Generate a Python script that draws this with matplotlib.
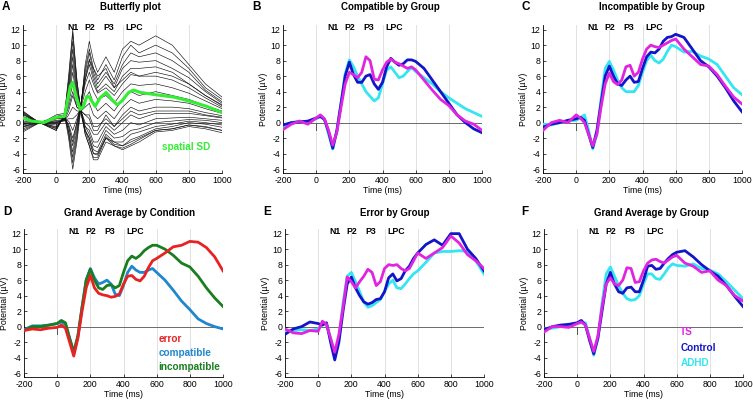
import matplotlib
matplotlib.use("Agg")
import matplotlib.pyplot as plt
import numpy as np

plt.rcParams['font.family'] = ['Liberation Sans', 'DejaVu Sans']
plt.rcParams['axes.unicode_minus'] = False

# ---------------- data ----------------
T = [-200, -150, -100, -50, 0, 25, 50, 75, 100, 125, 150, 175, 200, 225, 250, 275,
     300, 325, 350, 375, 400, 425, 450, 475, 500, 525, 550, 575, 600, 650, 700, 750,
     800, 850, 900, 950, 1000]

# Panel B: Compatible by Group
B_control = [-0.3, 0.0, 0.1, 0.2, 0.6, 0.8, 0.4, -1.2, -3.3, -1.0, 2.5, 6.0, 7.8, 6.2, 5.2, 5.2,
             6.0, 6.2, 5.0, 4.3, 5.2, 7.2, 8.3, 7.8, 7.4, 7.6, 8.1, 8.1, 7.9, 7.0, 5.5, 4.0,
             2.5, 1.0, 0.0, -0.8, -1.3]
B_adhd = [-0.5, 0.0, 0.2, 0.0, 0.5, 0.8, 0.5, -1.5, -3.4, -1.0, 2.5, 6.3, 8.1, 7.2, 6.0, 5.0,
          4.0, 3.4, 2.8, 3.2, 5.0, 6.8, 7.2, 6.5, 5.8, 6.0, 6.6, 7.1, 6.6, 5.8, 5.0, 4.0,
          3.2, 2.5, 1.8, 1.3, 0.8]
B_ts = [-0.9, -0.2, 0.2, -0.2, 0.6, 1.0, 0.5, -1.0, -2.9, -1.2, 2.0, 5.0, 6.5, 6.2, 5.8, 6.5,
        8.5, 8.0, 5.6, 5.5, 6.8, 7.8, 8.2, 7.8, 7.6, 7.3, 7.0, 7.2, 6.8, 5.5, 4.2, 3.0,
        2.2, 1.0, 0.2, -0.2, -1.0]

# Panel C: Incompatible by Group
C_control = [-0.6, -0.2, 0.0, 0.3, 0.5, 0.7, 0.3, -1.5, -3.2, -1.0, 2.5, 6.0, 7.3, 6.0, 5.0, 4.8,
             5.5, 6.0, 5.2, 5.3, 7.0, 8.5, 9.1, 9.0, 9.5, 10.5, 11.0, 11.1, 11.4, 11.0, 9.5, 8.0,
             7.2, 6.0, 4.5, 2.8, 1.4]
C_adhd = [-0.2, -0.3, 0.0, 0.2, 0.3, 0.6, 1.0, -1.0, -3.4, -1.5, 3.0, 7.0, 7.9, 6.8, 5.5, 4.5,
          4.0, 4.0, 4.0, 4.8, 6.5, 8.0, 8.7, 8.0, 7.7, 8.2, 9.2, 10.0, 9.8, 9.1, 9.2, 8.6,
          8.2, 7.5, 6.0, 4.5, 3.6]
C_ts = [-1.0, 0.0, 0.3, 0.0, 1.0, 0.6, 0.0, -1.5, -3.0, -1.5, 2.0, 5.0, 6.4, 5.3, 4.9, 5.5,
        7.2, 7.4, 6.0, 6.5, 8.2, 9.5, 10.0, 9.8, 9.7, 10.0, 10.3, 10.6, 10.8, 9.5, 8.5, 7.5,
        7.3, 6.2, 4.7, 3.3, 2.4]

# Panel D: Grand Average by Condition
D_error = [-0.5, -0.3, -0.4, -0.2, -0.1, 0.2, -0.2, -2.0, -3.8, -1.5, 2.0, 5.0, 6.6, 5.0, 4.3, 4.1,
           4.0, 3.8, 3.9, 4.2, 5.5, 6.5, 6.6, 6.1, 5.9, 6.5, 7.6, 8.5, 8.8, 9.5, 10.3, 10.5,
           11.0, 10.9, 10.2, 9.0, 7.2]
D_compatible = [-0.4, 0.1, 0.1, 0.2, 0.4, 0.6, 0.3, -1.5, -3.3, -1.2, 2.5, 6.0, 7.5, 6.3, 5.5, 5.7,
                6.0, 5.5, 4.2, 4.0, 5.3, 7.0, 7.8, 7.3, 7.0, 7.0, 7.3, 7.5, 7.0, 6.0, 4.7, 3.3,
                2.2, 1.0, 0.4, 0.0, -0.3]
D_incompatible = [-0.5, 0.0, 0.0, 0.2, 0.4, 0.8, 0.5, -1.5, -3.3, -1.2, 2.5, 6.0, 7.4, 6.0, 5.0, 4.8,
                  5.3, 5.4, 5.0, 5.3, 7.0, 8.5, 9.1, 8.8, 9.2, 9.8, 10.2, 10.5, 10.5, 10.0, 9.2, 8.2,
                  7.7, 6.5, 5.0, 3.7, 2.6]

# Panel E: Error by Group
E_control = [-1.0, -0.3, 0.0, 0.6, 0.4, 0.2, 0.5, -2.0, -4.3, -2.0, 2.0, 5.5, 6.4, 5.0, 4.0, 3.2,
             2.9, 3.1, 3.5, 3.6, 4.5, 6.3, 6.8, 5.9, 6.2, 7.2, 7.8, 8.8, 9.5, 10.6, 11.2, 10.5,
             12.0, 12.0, 10.0, 8.8, 7.2]
E_adhd = [-0.6, -0.5, -0.4, -0.5, -0.3, 0.3, 0.4, -1.5, -4.0, -1.5, 3.0, 6.5, 7.0, 5.8, 4.5, 3.2,
          2.5, 2.7, 3.1, 3.5, 4.5, 5.5, 6.0, 5.0, 4.9, 5.5, 6.2, 6.8, 7.2, 8.3, 9.5, 9.7,
          9.7, 9.8, 9.7, 8.5, 6.8]
E_ts = [-0.3, -0.8, -0.9, -0.5, -0.6, 0.7, 0.3, -1.5, -3.3, -1.0, 2.5, 6.4, 5.8, 5.0, 5.8, 6.5,
        7.4, 7.0, 5.3, 5.8, 7.5, 8.0, 7.9, 8.0, 7.5, 7.2, 7.5, 8.5, 9.5, 8.8, 9.5, 10.2,
        11.7, 10.8, 9.3, 8.5, 7.5]

# Panel F: Grand Average by Group
F_control = [-0.4, 0.0, 0.2, 0.3, 0.5, 0.8, 0.2, -1.8, -3.5, -1.5, 2.0, 5.5, 7.0, 5.5, 4.5, 4.3,
             5.0, 5.1, 4.5, 4.5, 6.0, 7.8, 7.9, 7.4, 7.5, 8.2, 8.8, 9.3, 9.6, 9.8, 9.0, 8.0,
             7.2, 6.5, 5.3, 3.9, 2.6]
F_adhd = [-0.3, -0.2, 0.0, 0.2, 0.4, 0.5, 0.5, -1.5, -3.7, -1.5, 3.0, 6.8, 7.7, 6.5, 5.3, 4.3,
          3.6, 3.4, 3.5, 4.0, 5.5, 6.8, 6.8, 6.2, 6.1, 6.8, 7.6, 8.1, 7.9, 7.8, 8.1, 7.5,
          7.3, 6.8, 5.8, 4.7, 3.6]
F_ts = [-0.7, 0.0, 0.0, -0.1, 0.4, 0.6, 0.2, -1.5, -3.2, -1.2, 2.5, 5.5, 6.3, 5.5, 5.3, 6.0,
        7.6, 7.5, 5.7, 5.8, 7.2, 8.2, 8.6, 8.7, 8.4, 8.2, 8.6, 9.0, 9.2, 8.2, 7.8, 7.0,
        7.2, 6.0, 5.3, 4.0, 3.3]

# Panel A: butterfly channels and spatial SD
TB = [-200, -150, -100, -50, 0, 50, 75, 100, 125, 150, 175, 200, 225, 250, 300, 350,
      400, 450, 500, 600, 700, 800, 900, 1000]
channels = [
    [-1.2, -0.6, 0.0, 0.3, 0.8, 1.0, -2.0, -6.0, -2.5, 2.0, 7.5, 10.5, 8.0, 6.5, 8.5, 6.5, 9.5, 10.5, 10.0, 11.2, 10.0, 7.5, 5.0, 3.3],
    [-1.0, -0.5, 0.0, 0.4, 1.0, 1.2, -1.5, -5.2, -2.0, 2.5, 7.0, 9.5, 7.0, 5.5, 7.5, 5.5, 8.5, 10.0, 9.0, 10.0, 9.0, 7.0, 4.5, 3.0],
    [-0.8, -0.4, 0.0, 0.3, 0.8, 1.0, -1.2, -4.5, -1.5, 2.5, 6.5, 9.0, 6.5, 5.0, 6.5, 5.0, 7.5, 9.0, 8.5, 9.0, 8.0, 6.5, 4.2, 2.7],
    [-0.6, -0.3, 0.0, 0.2, 0.6, 0.8, -1.0, -3.8, -1.0, 2.5, 6.0, 8.2, 6.0, 4.5, 6.0, 4.5, 7.0, 8.0, 7.8, 8.0, 7.0, 5.8, 4.0, 2.5],
    [-0.5, -0.2, 0.0, 0.3, 0.7, 0.9, -0.5, -3.0, -0.5, 2.5, 5.5, 7.5, 5.5, 4.0, 5.0, 4.0, 6.0, 7.0, 7.0, 7.2, 6.5, 5.0, 3.5, 2.2],
    [-0.3, -0.1, 0.0, 0.2, 0.5, 0.6, -0.2, -2.0, 0.0, 2.2, 5.0, 6.5, 5.0, 3.8, 4.5, 3.5, 5.0, 6.2, 6.0, 6.0, 5.5, 4.5, 3.2, 2.0],
    [-0.2, 0.0, 0.0, 0.1, 0.3, 0.4, 0.2, -1.0, 0.5, 2.0, 4.0, 5.5, 4.0, 3.0, 3.5, 2.5, 4.0, 5.0, 4.8, 5.0, 4.5, 3.8, 2.8, 1.8],
    [0.0, 0.0, 0.0, 0.1, 0.2, 0.3, 0.5, 0.5, 1.0, 1.8, 3.0, 4.0, 2.5, 1.5, 2.5, 1.5, 3.0, 4.0, 3.5, 4.0, 3.5, 3.0, 2.2, 1.5],
    [0.2, 0.1, 0.0, 0.0, 0.1, 0.2, 1.0, 2.0, 1.5, 1.5, 2.0, 2.5, 1.0, 0.5, 1.5, 0.5, 2.0, 3.0, 2.5, 3.0, 2.8, 2.5, 1.8, 1.2],
    [0.4, 0.2, 0.0, 0.0, 0.0, 0.3, 1.5, 3.5, 2.0, 1.5, 1.0, 1.0, -0.5, -0.5, 0.5, -0.5, 1.0, 2.0, 1.5, 2.0, 2.0, 1.8, 1.3, 0.9],
    [0.6, 0.3, 0.0, -0.1, -0.1, 0.4, 2.5, 5.0, 2.5, 1.5, 0.0, -0.5, -1.5, -1.5, 0.0, -1.0, 0.0, 1.0, 0.5, 1.2, 1.2, 1.2, 0.9, 0.6],
    [0.8, 0.4, 0.0, -0.2, -0.3, 0.5, 3.0, 6.5, 3.0, 1.5, -0.5, -1.0, -2.5, -2.5, -0.5, -1.5, -1.0, 0.0, -0.3, 0.5, 0.6, 0.7, 0.5, 0.3],
    [1.0, 0.5, 0.0, -0.3, -0.5, 0.6, 3.5, 7.5, 3.5, 1.5, -0.5, -1.5, -3.0, -3.2, -1.0, -2.0, -1.8, -1.0, -0.8, 0.0, 0.2, 0.4, 0.3, 0.0],
    [1.1, 0.5, 0.0, -0.3, -0.6, 0.7, 4.0, 8.5, 4.0, 1.5, -1.0, -2.0, -3.5, -3.8, -1.5, -2.5, -2.5, -1.5, -1.2, -0.5, -0.2, 0.2, 0.0, -0.3],
    [1.2, 0.6, 0.0, -0.4, -0.7, 0.8, 4.5, 9.5, 4.5, 1.5, -1.0, -2.5, -4.0, -4.2, -1.8, -2.8, -3.0, -2.2, -1.8, -0.8, -0.5, 0.0, -0.2, -0.6],
    [1.3, 0.6, 0.0, -0.4, -0.8, 0.9, 5.0, 10.5, 5.0, 1.5, -1.5, -3.0, -4.5, -4.5, -2.0, -3.0, -3.3, -2.8, -2.2, -1.0, -0.8, -0.3, -0.5, -1.0],
    [1.4, 0.7, 0.0, -0.5, -1.0, 1.0, 5.5, 11.5, 5.5, 1.5, -1.5, -3.0, -4.8, -4.8, -2.5, -3.0, -3.5, -3.0, -2.5, -1.2, -1.0, -0.5, -0.8, -1.3],
    [1.5, 0.7, 0.0, -0.5, -1.0, 1.0, 6.0, 12.0, 5.5, 1.0, -1.0, -2.0, -4.0, -4.0, -2.0, -2.5, -3.0, -2.5, -2.0, -1.0, -0.8, -0.3, -0.6, -1.0],
    [-0.5, -0.2, 0.0, 0.2, 0.5, 0.6, -0.5, -2.5, 0.0, 2.5, 5.5, 8.0, 7.0, 6.0, 7.0, 4.5, 5.5, 6.5, 6.0, 6.5, 6.0, 5.0, 3.5, 2.3],
    [0.5, 0.3, 0.0, -0.1, 0.0, 0.5, 2.0, 4.0, 2.0, 1.5, 1.0, 0.5, -1.0, -1.0, 1.0, -0.5, 0.5, 1.5, 1.0, 1.5, 1.5, 1.5, 1.0, 0.7],
]
TSD = [-200, -150, -100, -75, 0, 50, 85, 100, 120, 145, 165, 185, 200, 235, 265, 302, 335,
       367, 397, 437, 467, 508, 600, 708, 800, 908, 1000]
spatial_sd = [0.6, 0.2, 0.1, 0.0, 0.7, 0.8, 4.7, 5.2, 3.4, 1.7, 2.1, 3.4, 3.3, 2.1, 3.2, 3.9, 3.0,
              2.3, 2.8, 3.9, 4.2, 3.9, 3.6, 3.3, 2.8, 2.1, 1.3]

components = ['N1', 'P2', 'P3', 'LPC']
component_x = [100, 200, 315, 470]
xticks = [-200, 0, 200, 400, 600, 800, 1000]
yticks = [-6, -4, -2, 0, 2, 4, 6, 8, 10, 12]

C_CONTROL = '#1414c8'
C_ADHD = '#33e6f2'
C_TS = '#e024e0'
C_ERR = '#e82222'
C_COMP = '#1f88cc'
C_INC = '#1a7d1f'
C_SD = '#33ee33'

# ---------------- layout ----------------
fig = plt.figure(figsize=(7.53, 4.0), dpi=100)
W, H = 753.0, 400.0
aw = 199 / W
ah = 148 / H
positions = {
    'A': (23 / W, 1 - 173 / H), 'B': (283 / W, 1 - 173 / H), 'C': (543 / W, 1 - 173 / H),
    'D': (24 / W, 1 - 377 / H), 'E': (285 / W, 1 - 377 / H), 'F': (544 / W, 1 - 377 / H),
}
titles = {
    'A': ('Butterfly plot', 130), 'B': ('Compatible by Group', 390), 'C': ('Incompatible by Group', 652),
    'D': ('Grand Average by Condition', 130), 'E': ('Error by Group', 395), 'F': ('Grand Average by Group', 651),
}
letters = {'A': (2, 7), 'B': (252, 7), 'C': (522, 7), 'D': (3, 212), 'E': (263, 212), 'F': (521, 212)}

axes = {}
for key, (l, b) in positions.items():
    ax = fig.add_axes([l, b, aw, ah])
    ax.set_xlim(-200, 1000)
    ax.set_ylim(-6.5, 12.6)
    ax.set_xticks(xticks)
    ax.set_yticks(yticks)
    ax.tick_params(labelsize=6.3, direction='in', length=2, width=0.5, pad=2)
    for s in ['top', 'right']:
        ax.spines[s].set_visible(False)
    for s in ['left', 'bottom']:
        ax.spines[s].set_linewidth(0.6)
    for x in [0, 200, 400, 600, 800]:
        ax.axvline(x, color='#dcdcdc', lw=0.6, zorder=0)
    ax.axhline(0, color='#6a6a6a', lw=0.7, zorder=1)
    ax.plot([0, 0], [0, -0.95], color='#555555', lw=0.7, zorder=1)
    ax.set_xlabel('Time (ms)', fontsize=6.3, labelpad=1)
    ax.set_ylabel('Potential (µV)', fontsize=6.3, labelpad=1.5)
    for name, cx in zip(components, component_x):
        ax.text(cx, 12.25, name, ha='center', va='center', fontsize=6.3, fontweight='bold')
    t, tx = titles[key]
    fig.text(tx / W, 1 - (7 if key in 'ABC' else 213) / H, t, ha='center', va='center',
             fontsize=7, fontweight='bold')
    lx, ly = letters[key]
    fig.text(lx / W, 1 - ly / H, key, ha='left', va='center', fontsize=8.5, fontweight='bold')
    axes[key] = ax

lw = 2.0
# A
ax = axes['A']
for ch in channels:
    ax.plot(TB, ch, color='#111111', lw=0.45, zorder=2)
ax.plot(TSD, spatial_sd, color=C_SD, lw=2.2, zorder=3)
ax.text(638, -3.1, 'spatial SD', color=C_SD, fontsize=7.2, fontweight='bold', va='center')

# B
ax = axes['B']
ax.plot(T, B_adhd, color=C_ADHD, lw=lw, zorder=3)
ax.plot(T, B_control, color=C_CONTROL, lw=lw, zorder=4)
ax.plot(T, B_ts, color=C_TS, lw=lw, zorder=5)

# C
ax = axes['C']
ax.plot(T, C_adhd, color=C_ADHD, lw=lw, zorder=3)
ax.plot(T, C_control, color=C_CONTROL, lw=lw, zorder=4)
ax.plot(T, C_ts, color=C_TS, lw=lw, zorder=5)

# D
ax = axes['D']
ax.plot(T, D_compatible, color=C_COMP, lw=lw, zorder=3)
ax.plot(T, D_incompatible, color=C_INC, lw=lw, zorder=4)
ax.plot(T, D_error, color=C_ERR, lw=lw, zorder=5)
ax.text(612, -1.6, 'error', color=C_ERR, fontsize=7.2, fontweight='bold', va='center')
ax.text(612, -3.4, 'compatible', color=C_COMP, fontsize=7.2, fontweight='bold', va='center')
ax.text(612, -5.2, 'incompatible', color=C_INC, fontsize=7.2, fontweight='bold', va='center')

# E
ax = axes['E']
ax.plot(T, E_adhd, color=C_ADHD, lw=lw, zorder=3)
ax.plot(T, E_control, color=C_CONTROL, lw=lw, zorder=4)
ax.plot(T, E_ts, color=C_TS, lw=lw, zorder=5)

# F
ax = axes['F']
ax.plot(T, F_adhd, color=C_ADHD, lw=lw, zorder=3)
ax.plot(T, F_control, color=C_CONTROL, lw=lw, zorder=4)
ax.plot(T, F_ts, color=C_TS, lw=lw, zorder=5)
ax.text(622, -0.75, 'TS', color=C_TS, fontsize=7.2, fontweight='bold', va='center')
ax.text(622, -2.7, 'Control', color=C_CONTROL, fontsize=7.2, fontweight='bold', va='center')
ax.text(622, -4.7, 'ADHD', color=C_ADHD, fontsize=7.2, fontweight='bold', va='center')

fig.savefig('out.png', dpi=100)
